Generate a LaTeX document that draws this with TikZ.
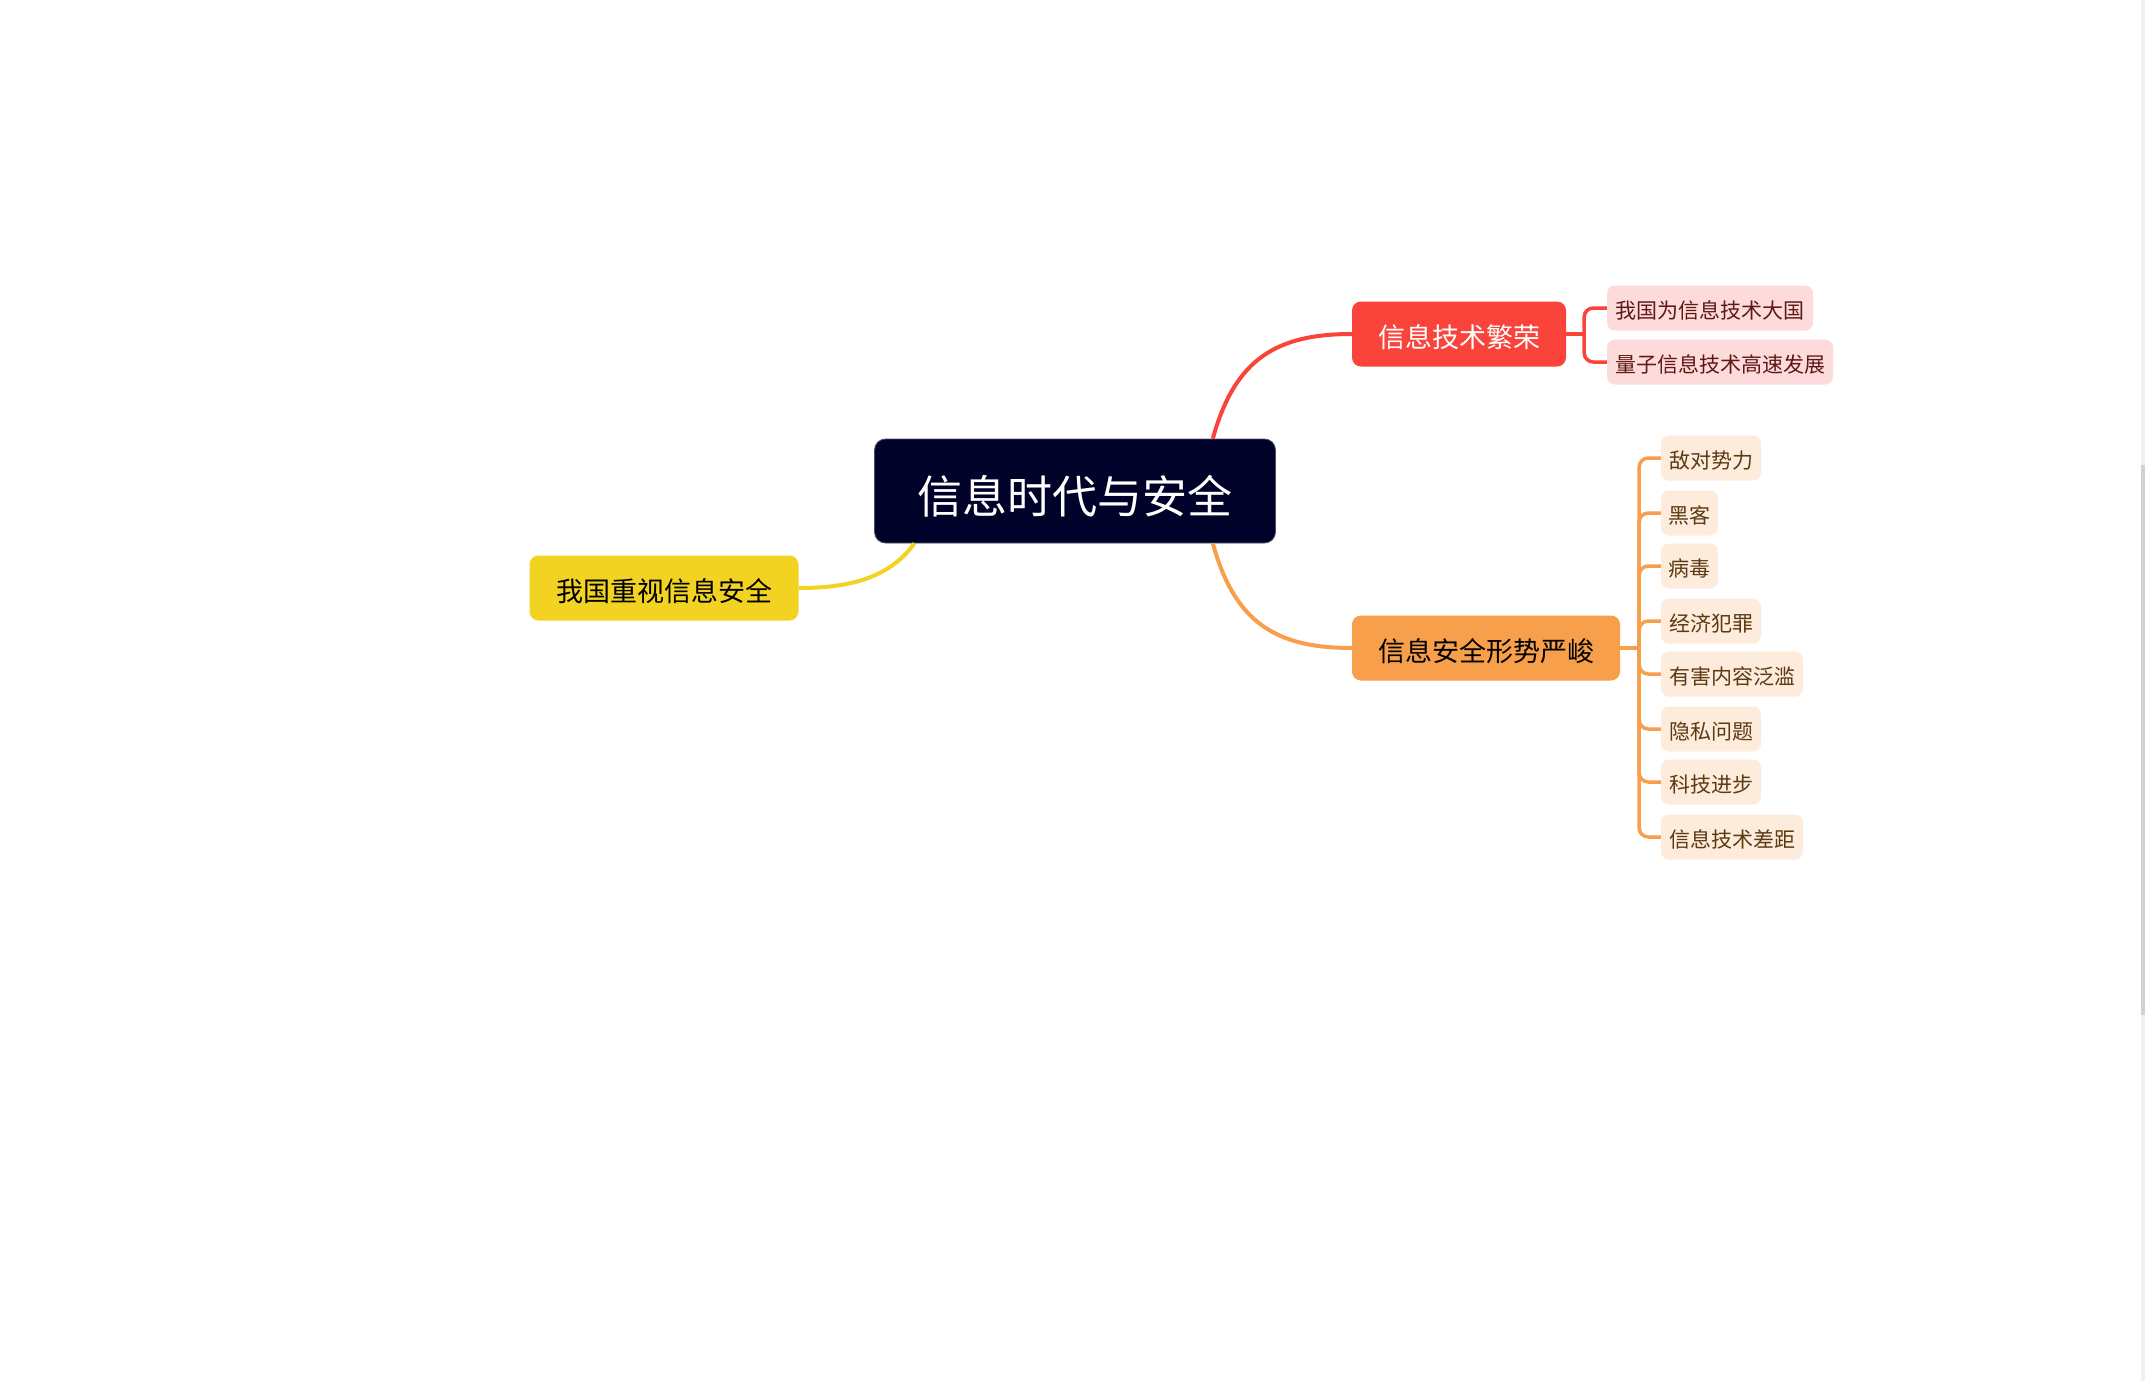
\documentclass[tikz,border=0pt]{standalone}
\usepackage{fontspec}
\newfontfamily\cjk{Noto Sans CJK SC}
\usetikzlibrary{calc}
\definecolor{mainbg}{HTML}{000229}
\definecolor{redc}{HTML}{FA433A}
\definecolor{orangec}{HTML}{F79F4B}
\definecolor{yellowc}{HTML}{F2D322}
\definecolor{redlight}{HTML}{FDDBDA}
\definecolor{redtext}{HTML}{5E1815}
\definecolor{orlight}{HTML}{FDEBDC}
\definecolor{ortext}{HTML}{5C3A12}
\tikzset{
  mainnode/.style={text height=46pt, text depth=2pt, fill=mainbg, draw=mainbg!70!white, line width=0.8pt, rounded corners=11, text=white, font=\cjk\fontsize{45}{50}\selectfont, minimum width=401, minimum height=104, inner sep=0},
  topic/.style={text height=28pt, text depth=2pt, rounded corners=9, font=\cjk\fontsize{27}{32}\selectfont, minimum height=65, inner sep=0},
  redchild/.style={text height=22pt, text depth=1pt, fill=redlight, text=redtext, rounded corners=8, font=\cjk\fontsize{21}{25}\selectfont, minimum height=45, inner sep=0},
  orchild/.style={text height=22pt, text depth=1pt, fill=orlight, text=ortext, rounded corners=8, font=\cjk\fontsize{21}{25}\selectfont, minimum height=45, inner sep=0},
  bigline/.style={line width=4pt},
  smallline/.style={line width=3.5pt, rounded corners=9}
}
\begin{document}
\begin{tikzpicture}[x=1pt,y=-1pt]
\fill[white] (0,0) rectangle (2145,1381);
\useasboundingbox (0,0) rectangle (2145,1381);
% scrollbar
\fill[black!6] (2141,0) rectangle (2145,1381);
\fill[black!18] (2141,465) rectangle (2145,1015);

\node[mainnode] (main) at (1075,491) {信息时代与安全};
\node[topic, fill=yellowc, text=black, minimum width=269] (yel) at (664,588) {我国重视信息安全};
\node[topic, fill=redc, text=white, minimum width=214] (red) at (1459,334) {信息技术繁荣};
\node[topic, fill=orangec, text=black, minimum width=268] (ora) at (1486,648) {信息安全形势严峻};

\node[redchild, minimum width=206] (r1) at (1710,308) {我国为信息技术大国};
\node[redchild, minimum width=226] (r2) at (1720,362) {量子信息技术高速发展};

\node[orchild, minimum width=100] (o1) at (1711,458) {敌对势力};
\node[orchild, minimum width=57]  (o2) at (1689.5,513) {黑客};
\node[orchild, minimum width=57]  (o3) at (1689.5,566) {病毒};
\node[orchild, minimum width=100] (o4) at (1711,621) {经济犯罪};
\node[orchild, minimum width=142] (o5) at (1732,674) {有害内容泛滥};
\node[orchild, minimum width=100] (o6) at (1711,729) {隐私问题};
\node[orchild, minimum width=100] (o7) at (1711,782) {科技进步};
\node[orchild, minimum width=142] (o8) at (1732,837) {信息技术差距};

% main connectors
\coordinate (mtr) at ($(main.north west)!0.843!(main.north east)$);
\coordinate (mbr) at ($(main.south west)!0.843!(main.south east)$);
\coordinate (mbl) at ($(main.south west)!0.10!(main.south east)$);
\draw[bigline, redc] (mtr) .. controls ($(mtr)+(22,-80)$) and ($(red.west)+(-75,0)$) .. (red.west);
\draw[bigline, orangec] (mbr) .. controls ($(mbr)+(22,80)$) and ($(ora.west)+(-75,0)$) .. (ora.west);
\draw[bigline, yellowc] (mbl) .. controls ($(mbl)+(-25,35)$) and ($(yel.east)+(50,0)$) .. (yel.east);

% red bracket
\coordinate (rb) at ($(red.east)+(18,0)$);
\draw[smallline, redc] (red.east) -- (rb);
\draw[smallline, redc] (rb) |- (r1.west);
\draw[smallline, redc] (rb) |- (r2.west);

% orange bracket
\coordinate (ob) at ($(ora.east)+(19,0)$);
\draw[smallline, orangec] (ora.east) -- (ob);
\foreach \c in {o1,o2,o3,o4,o5,o6,o7,o8}{
  \draw[smallline, orangec] (ob) |- (\c.west);
}
\end{tikzpicture}
\end{document}
